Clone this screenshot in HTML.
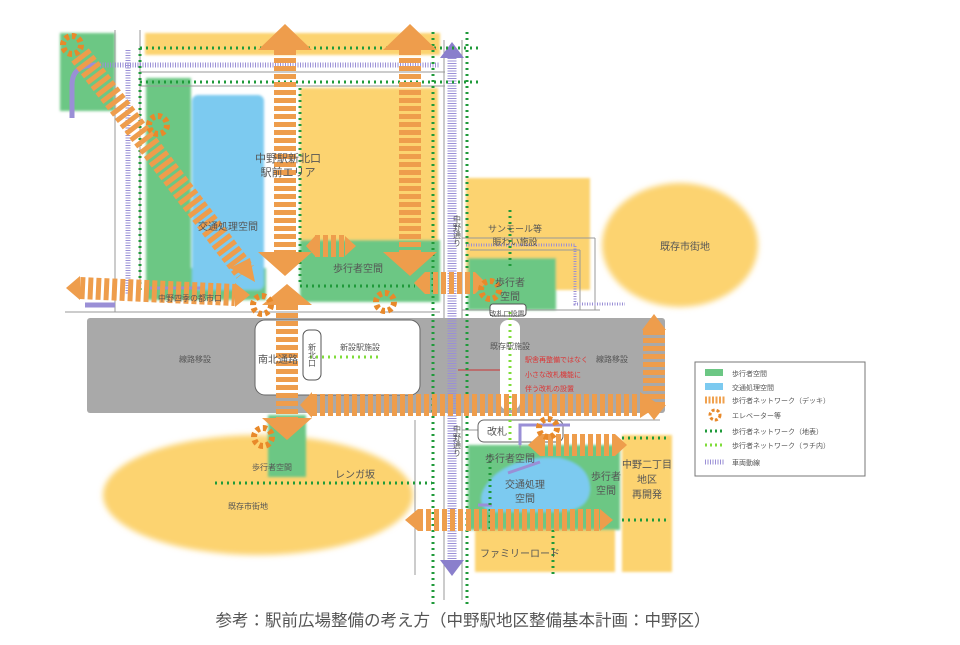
<!DOCTYPE html>
<html><head><meta charset="utf-8"><style>
body{margin:0;background:#fff;width:960px;height:640px;overflow:hidden}
svg text{font-family:"Liberation Sans","Noto Sans CJK JP",sans-serif;fill:#555}
</style></head><body>
<svg width="960" height="640" viewBox="0 0 960 640" xmlns="http://www.w3.org/2000/svg">
<defs>
<filter id="b"><feGaussianBlur stdDeviation="1.2"/></filter>
<filter id="b2"><feGaussianBlur stdDeviation="3"/></filter>
</defs>
<ellipse cx="680" cy="245" rx="78" ry="62" fill="#fcd36f" filter="url(#b2)"/>
<ellipse cx="258" cy="495" rx="155" ry="60" fill="#fcd36f" filter="url(#b2)"/>
<g filter="url(#b)">
<rect x="145" y="33" width="295" height="22" fill="#fcd36f"/>
<rect x="300" y="88" width="138" height="152" fill="#fcd36f"/>
<rect x="466" y="178" width="124" height="112" fill="#fcd36f"/>
<rect x="475" y="530" width="140" height="42" fill="#fcd36f"/>
<rect x="622" y="435" width="50" height="137" fill="#fcd36f"/>
<rect x="60" y="33" width="55" height="78" fill="#6cc784"/>
<rect x="146" y="78" width="45" height="190" fill="#6cc784"/>
<rect x="146" y="268" width="120" height="32" fill="#6cc784"/>
<rect x="300" y="240" width="140" height="62" fill="#6cc784"/>
<rect x="468" y="258" width="88" height="52" fill="#6cc784"/>
<rect x="268" y="415" width="38" height="62" fill="#6cc784"/>
<rect x="468" y="445" width="152" height="85" fill="#6cc784"/>
<rect x="192" y="95" width="72" height="195" rx="6" fill="#7ccaf0"/>
<path d="M495 475 Q520 455 560 458 Q590 465 590 490 Q588 512 555 512 L490 512 Q470 500 495 475Z" fill="#7ccaf0"/>
</g>
<g stroke="#999" stroke-width="1" fill="none">
<line x1="115" y1="30" x2="115" y2="312"/><line x1="140" y1="30" x2="140" y2="300"/>
<line x1="140" y1="72" x2="445" y2="72"/><line x1="140" y1="86" x2="445" y2="86"/>
<line x1="65" y1="312" x2="440" y2="312"/>
<line x1="444" y1="40" x2="444" y2="600"/><line x1="462" y1="40" x2="462" y2="600"/>
<line x1="462" y1="238" x2="595" y2="238"/><line x1="470" y1="250" x2="580" y2="250"/>
<line x1="580" y1="250" x2="580" y2="310"/><line x1="595" y1="238" x2="595" y2="310"/>
<line x1="462" y1="310" x2="600" y2="310"/>
<line x1="462" y1="430" x2="520" y2="430"/><line x1="520" y1="430" x2="520" y2="448"/>
<line x1="560" y1="420" x2="660" y2="420"/>
<line x1="415" y1="420" x2="415" y2="575"/>
</g>
<rect x="87" y="318" width="578" height="95" rx="3" fill="#a9a9a9"/>
<rect x="255" y="320" width="165" height="75" rx="10" fill="#fff" stroke="#666"/>
<rect x="303" y="330" width="18" height="50" rx="6" fill="#fff" stroke="#555"/>
<rect x="500" y="320" width="20" height="90" rx="8" fill="#fff"/>
<rect x="478" y="420" width="85" height="22" rx="6" fill="#fff" stroke="#666"/>
<rect x="490" y="304" width="36" height="12" rx="3" fill="#fff" stroke="#555"/>
<line x1="458" y1="370" x2="500" y2="370" stroke="#c33" stroke-width="1"/>
<g stroke="#9a8fd6" fill="none">
<line x1="452" y1="48" x2="452" y2="560" stroke-width="9" stroke-dasharray="1 1.5"/>
<polygon points="440,560 464,560 452,576" fill="#8a7fcc" stroke="none"/>
<polygon points="440,58 464,58 452,42" fill="#8a7fcc" stroke="none"/>
<line x1="95" y1="65" x2="440" y2="65" stroke-width="5" stroke-dasharray="1 1.5"/>
<line x1="128" y1="50" x2="128" y2="295" stroke-width="5" stroke-dasharray="1 1.5"/>
<path d="M95 65 Q72 65 72 85 L72 118" stroke-width="5"/>
<line x1="85" y1="305" x2="115" y2="305" stroke-width="5"/>
<line x1="150" y1="288" x2="205" y2="288" stroke-width="3"/>
<path d="M466 245 L575 245 L575 304 L625 304" stroke-width="3" stroke-dasharray="1 1.5"/>
<path d="M520 445 L520 425 L570 425" stroke-width="3"/>
<line x1="508" y1="473" x2="540" y2="462" stroke-width="3"/>
<line x1="478" y1="505" x2="492" y2="505" stroke-width="3"/>
</g>
<g stroke="#1f9a3a" stroke-width="3" stroke-dasharray="2 4" fill="none">
<line x1="140" y1="48" x2="478" y2="48"/><line x1="140" y1="82" x2="478" y2="82"/>
<line x1="140" y1="48" x2="140" y2="292"/>
<line x1="300" y1="88" x2="300" y2="286"/>
<line x1="300" y1="286" x2="415" y2="286"/>
<line x1="433" y1="32" x2="433" y2="605"/><line x1="467" y1="32" x2="467" y2="605"/>
<line x1="510" y1="210" x2="510" y2="268"/>
<line x1="215" y1="483" x2="432" y2="483"/>
<line x1="622" y1="438" x2="668" y2="438"/><line x1="622" y1="520" x2="668" y2="520"/>
<line x1="553" y1="530" x2="553" y2="575"/>
<line x1="490" y1="455" x2="490" y2="530"/>
</g>
<g stroke="#7fdc3a" stroke-width="3" stroke-dasharray="2 4"><line x1="510" y1="312" x2="510" y2="440"/><line x1="310" y1="357" x2="378" y2="357"/></g>
<g stroke="#ee9d4c" stroke-width="22" stroke-dasharray="5 3" fill="none">
<line x1="285" y1="50" x2="285" y2="252"/>
<line x1="410" y1="50" x2="410" y2="252"/>
<line x1="287" y1="305" x2="287" y2="418"/>
<line x1="312" y1="405" x2="640" y2="405"/>
<line x1="654" y1="330" x2="654" y2="405"/>
<line x1="80" y1="55" x2="245" y2="272"/>
<line x1="80" y1="288" x2="235" y2="295"/>
<line x1="425" y1="283" x2="475" y2="283"/>
<line x1="315" y1="246" x2="345" y2="246"/>
<line x1="540" y1="445" x2="615" y2="445"/>
<line x1="418" y1="520" x2="600" y2="520"/>
</g>
<g fill="#ee9d4c">
<polygon points="258,50 312,50 285,24"/><polygon points="383,50 437,50 410,24"/>
<polygon points="258,252 312,252 285,276"/><polygon points="383,252 437,252 410,276"/>
<polygon points="262,305 312,305 287,284"/><polygon points="262,418 312,418 287,440"/>
<polygon points="640,392 640,418 660,405"/><polygon points="312,392 312,418 300,405"/>
<polygon points="642,330 666,330 654,314"/><polygon points="642,405 666,405 654,420"/>
<polygon points="230,268 255,282 250,258"/>
<polygon points="80,276 80,300 66,288"/><polygon points="235,283 235,307 250,295"/>
<polygon points="425,272 425,294 414,283"/><polygon points="475,272 475,294 486,283"/>
<polygon points="315,236 315,256 306,246"/><polygon points="345,236 345,256 356,246"/>
<polygon points="540,434 540,456 528,445"/><polygon points="615,434 615,456 627,445"/>
<polygon points="418,509 418,531 405,520"/><polygon points="600,509 600,531 613,520"/>
</g>
<g fill="none" stroke="#e8892a" stroke-width="6" stroke-dasharray="4 3">
<circle cx="72" cy="45" r="9"/><circle cx="158" cy="125" r="9"/><circle cx="262" cy="305" r="9"/>
<circle cx="385" cy="302" r="9"/><circle cx="263" cy="437" r="9"/><circle cx="548" cy="428" r="9"/>
<circle cx="490" cy="290" r="9"/>
</g>
<g font-size="10">
<text x="288" y="162" text-anchor="middle" font-size="11">中野駅新北口</text>
<text x="288" y="176" text-anchor="middle" font-size="11">駅前エリア</text>
<text x="228" y="230" text-anchor="middle">交通処理空間</text>
<text x="358" y="272" text-anchor="middle">歩行者空間</text>
<text x="515" y="232" text-anchor="middle" font-size="9">サンモール等</text>
<text x="515" y="245" text-anchor="middle" font-size="9">賑わい施設</text>
<text x="510" y="286" text-anchor="middle">歩行者</text>
<text x="510" y="300" text-anchor="middle">空間</text>
<text x="685" y="250" text-anchor="middle">既存市街地</text>
<text x="158" y="301" font-size="8">中野四季の都市口</text>
<text x="195" y="362" text-anchor="middle" font-size="8">線路移設</text>
<text x="278" y="363" text-anchor="middle">南北通路</text>
<text x="312" y="355" text-anchor="middle" font-size="8" writing-mode="tb">新北口</text>
<text x="360" y="350" text-anchor="middle" font-size="8">新設駅施設</text>
<text x="510" y="349" text-anchor="middle" font-size="8" fill="#444">既存駅施設</text>
<text x="612" y="362" text-anchor="middle" font-size="8">線路移設</text>
<text x="525" y="362" font-size="7" style="fill:#d33">駅舎再整備ではなく</text>
<text x="525" y="377" font-size="7" style="fill:#d33">小さな改札機能に</text>
<text x="525" y="391" font-size="7" style="fill:#d33">伴う改札の設置</text>
<text x="507" y="316" text-anchor="middle" font-size="7">改札口設置</text>
<text x="497" y="435" text-anchor="middle">改札</text>
<text x="510" y="462" text-anchor="middle">歩行者空間</text>
<text x="525" y="488" text-anchor="middle">交通処理</text>
<text x="525" y="502" text-anchor="middle">空間</text>
<text x="606" y="480" text-anchor="middle">歩行者</text>
<text x="606" y="494" text-anchor="middle">空間</text>
<text x="647" y="468" text-anchor="middle">中野二丁目</text>
<text x="647" y="483" text-anchor="middle">地区</text>
<text x="647" y="498" text-anchor="middle">再開発</text>
<text x="520" y="557" text-anchor="middle">ファミリーロード</text>
<text x="272" y="470" text-anchor="middle" font-size="8">歩行者空間</text>
<text x="355" y="478" text-anchor="middle">レンガ坂</text>
<text x="248" y="509" text-anchor="middle" font-size="8">既存市街地</text>
<text x="457" y="215" font-size="8" writing-mode="tb">中野通り</text>
<text x="457" y="425" font-size="8" writing-mode="tb">中野通り</text>
</g>
<rect x="695" y="362" width="170" height="114" fill="#fff" stroke="#777"/>
<rect x="705" y="369" width="18" height="7" fill="#6cc784"/>
<rect x="705" y="383" width="18" height="7" fill="#7ccaf0"/>
<line x1="705" y1="400" x2="725" y2="400" stroke="#f0a14e" stroke-width="7" stroke-dasharray="2 1.5"/>
<circle cx="715" cy="415" r="5" fill="none" stroke="#e8892a" stroke-width="3" stroke-dasharray="3 2"/>
<line x1="705" y1="431" x2="725" y2="431" stroke="#1f9a3a" stroke-width="3" stroke-dasharray="2 3"/>
<line x1="705" y1="445" x2="725" y2="445" stroke="#7fdc3a" stroke-width="3" stroke-dasharray="2 3"/>
<line x1="705" y1="462" x2="725" y2="462" stroke="#9a8fd6" stroke-width="5" stroke-dasharray="1 1.5"/>
<g font-size="7">
<text x="732" y="376">歩行者空間</text><text x="732" y="390">交通処理空間</text>
<text x="732" y="403">歩行者ネットワーク（デッキ）</text><text x="732" y="418">エレベーター等</text>
<text x="732" y="434">歩行者ネットワーク（地表）</text><text x="732" y="448">歩行者ネットワーク（ラチ内）</text>
<text x="732" y="465">車両動線</text>
</g>
<text x="463" y="626" text-anchor="middle" font-size="16.5" fill="#444">参考：駅前広場整備の考え方（中野駅地区整備基本計画：中野区）</text>
</svg>
</body></html>
